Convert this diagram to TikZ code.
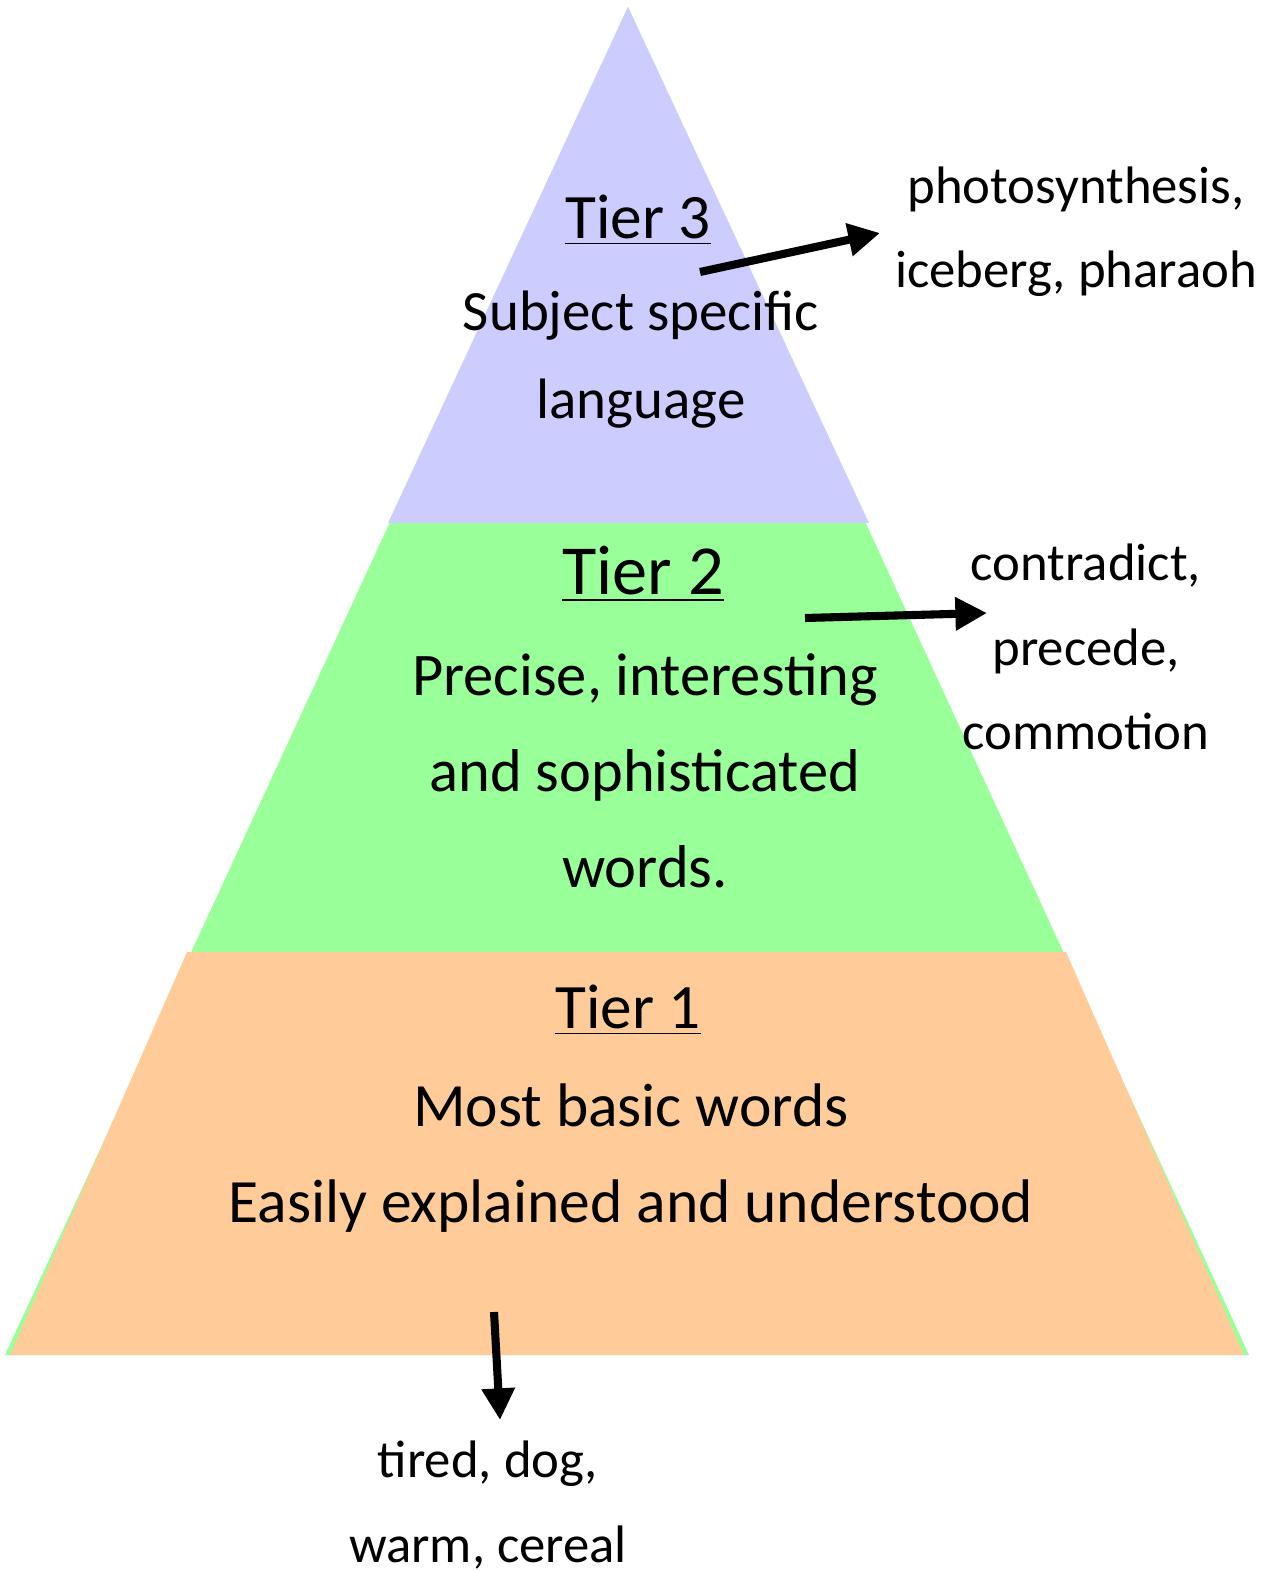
\documentclass[tikz,border=0pt]{standalone}
\usepackage{fontspec}
\setmainfont{Carlito}
\usetikzlibrary{arrows.meta}
\definecolor{tierthree}{HTML}{CCCCFF}
\definecolor{tiertwo}{HTML}{99FF99}
\definecolor{tierone}{HTML}{FFCC99}

\begin{document}
\begin{tikzpicture}[x=0.01cm,y=-0.01cm,
  heading/.style={font=\fontsize{18}{22}\selectfont},
  words/.style={align=center,font=\fontsize{17.5}{27}\selectfont},
  examples/.style={align=center,font=\fontsize{15}{24}\selectfont},
  pointer/.style={-{Triangle[length=9pt,width=9pt]},line width=2.3pt}]
\useasboundingbox (0,0) rectangle (1277,1571);
% the three tiers
\fill[tiertwo] (628,7) -- (1249,1355) -- (5,1355) -- cycle;
\fill[tierthree] (628,7) -- (869,523) -- (388,523) -- cycle;
\fill[tierone] (187,952) -- (1066,952) -- (1244,1355) -- (10,1355) -- cycle;
% tier 3
\node[heading] (tier3) at (638,220) {\underline{Tier 3}};
\node[words,font=\fontsize{16.2}{25}\selectfont] (tier3text) at (641,360) {Subject specific\\language};
\node[examples] (tier3words) at (1076,232) {photosynthesis,\\iceberg, pharaoh};
% tier 2
\node[heading,font=\fontsize{20}{24}\selectfont] (tier2) at (643,574) {\underline{Tier 2}};
\node[words,font=\fontsize{17.2}{27.3}\selectfont] (tier2text) at (645,771) {Precise, interesting\\and sophisticated\\words.};
\node[examples] (tier2words) at (1086,647) {contradict,\\precede,\\commotion};
% tier 1
\node[heading] (tier1) at (628,1010) {\underline{Tier 1}};
\node[words,font=\fontsize{17.5}{27.3}\selectfont] (tier1text) at (631,1158) {Most basic words\\Easily explained and understood};
\node[examples] (tier1words) at (488,1505) {tired, dog,\\warm, cereal};
% arrows out to the examples
\coordinate (from3) at (700,272);
\coordinate (to3) at (880,233);
\coordinate (from2) at (805,618);
\coordinate (to2) at (987,613);
\coordinate (from1) at (494,1312);
\coordinate (to1) at (500,1420);
\draw[pointer] (from3) -- (to3);
\draw[pointer] (from2) -- (to2);
\draw[pointer] (from1) -- (to1);
\end{tikzpicture}
\end{document}
